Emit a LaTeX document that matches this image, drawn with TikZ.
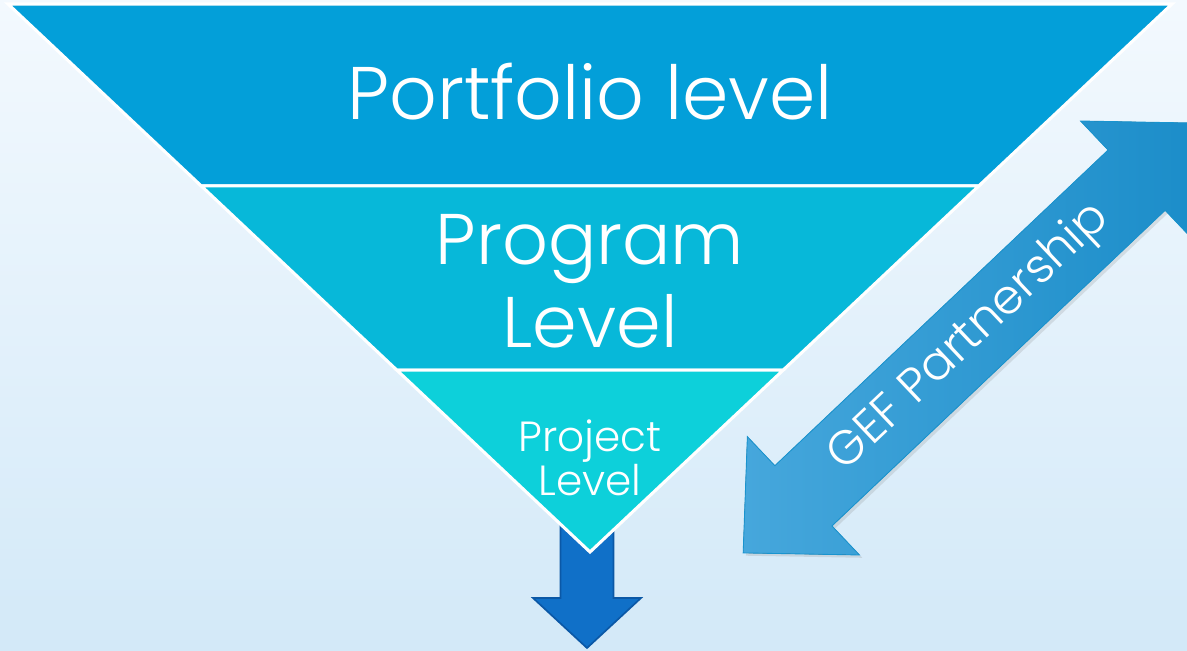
\documentclass[tikz,border=0pt]{standalone}
\usepackage{fontspec}
\IfFontExistsTF{Poppins Light}{\setmainfont{Poppins Light}}{\setmainfont{Poppins}}
\usetikzlibrary{calc,shadows}

\definecolor{bgtop}{HTML}{F3F9FE}
\definecolor{bgbottom}{HTML}{D3E9F8}
\definecolor{portfolioblue}{HTML}{039FD9}
\definecolor{programblue}{HTML}{07B8D9}
\definecolor{projectblue}{HTML}{0DD0DA}
\definecolor{downfill}{HTML}{1070C8}
\definecolor{downline}{HTML}{0B58A6}
\definecolor{gefLight}{HTML}{46A7DC}
\definecolor{gefDark}{HTML}{1B8DC9}
\definecolor{gefLine}{HTML}{1994CF}

\begin{document}
\begin{tikzpicture}[
    x=0.025cm, y=0.025cm,
    band/.style={draw=white, line width=2.2pt, line join=miter},
    level/.style={text=white, align=center},
    downarrow/.style={fill=downfill, draw=downline, line width=1.2pt, line join=miter},
    gefarrow/.style={left color=gefLight, right color=gefDark, draw=gefLine, line width=0.6pt,
        drop shadow={opacity=0.2, shadow xshift=2pt, shadow yshift=-2pt}}
]

% Background
\shade[top color=bgtop, bottom color=bgbottom] (0,0) rectangle (1187,650);
\useasboundingbox (0,0) rectangle (1187,650);

% Corners of the funnel
\coordinate (tl) at (8,646);
\coordinate (tr) at (1172,646);
\coordinate (apex) at (590,98);
\coordinate (l1) at ($(tl)!0.332!(apex)$);
\coordinate (r1) at ($(tr)!0.332!(apex)$);
\coordinate (l2) at ($(tl)!0.668!(apex)$);
\coordinate (r2) at ($(tr)!0.668!(apex)$);

% Downward arrow
\draw[downarrow] (560.5,130) -- (560.5,52) -- (533,52) -- (587,2) -- (641,52) -- (613.5,52) -- (613.5,130) -- cycle;

% Funnel bands
\filldraw[band, fill=portfolioblue] (tl) -- (tr) -- (r1) -- (l1) -- cycle;
\filldraw[band, fill=programblue] (l1) -- (r1) -- (r2) -- (l2) -- cycle;
\filldraw[band, fill=projectblue] (l2) -- (r2) -- (apex) -- cycle;

% Level labels
\node[level, font=\fontsize{53}{60}\selectfont, anchor=base] (portfolio) at (590,530) {Portfolio level};
\node[level, font=\fontsize{51}{59}\selectfont] (program) at (590,369) {Program\\Level};
\node[level, font=\fontsize{30}{28.5}\selectfont] (project) at (590,192) {Project\\Level};

% GEF Partnership arrow
\begin{scope}[shift={(970,312)}, rotate=43.45]
\filldraw[gefarrow] (-312.5,0) -- (-229.5,81.5) -- (-229.5,41.5) -- (229.5,41.5) -- (229.5,81.5)
    -- (312.5,0) -- (229.5,-81.5) -- (229.5,-41.5) -- (-229.5,-41.5) -- (-229.5,-81.5) -- cycle;
\node[level, rotate=43.45, font=\fontsize{34}{40}\selectfont] (gef) at (0,0) {GEF Partnership};
\end{scope}

\end{tikzpicture}
\end{document}
